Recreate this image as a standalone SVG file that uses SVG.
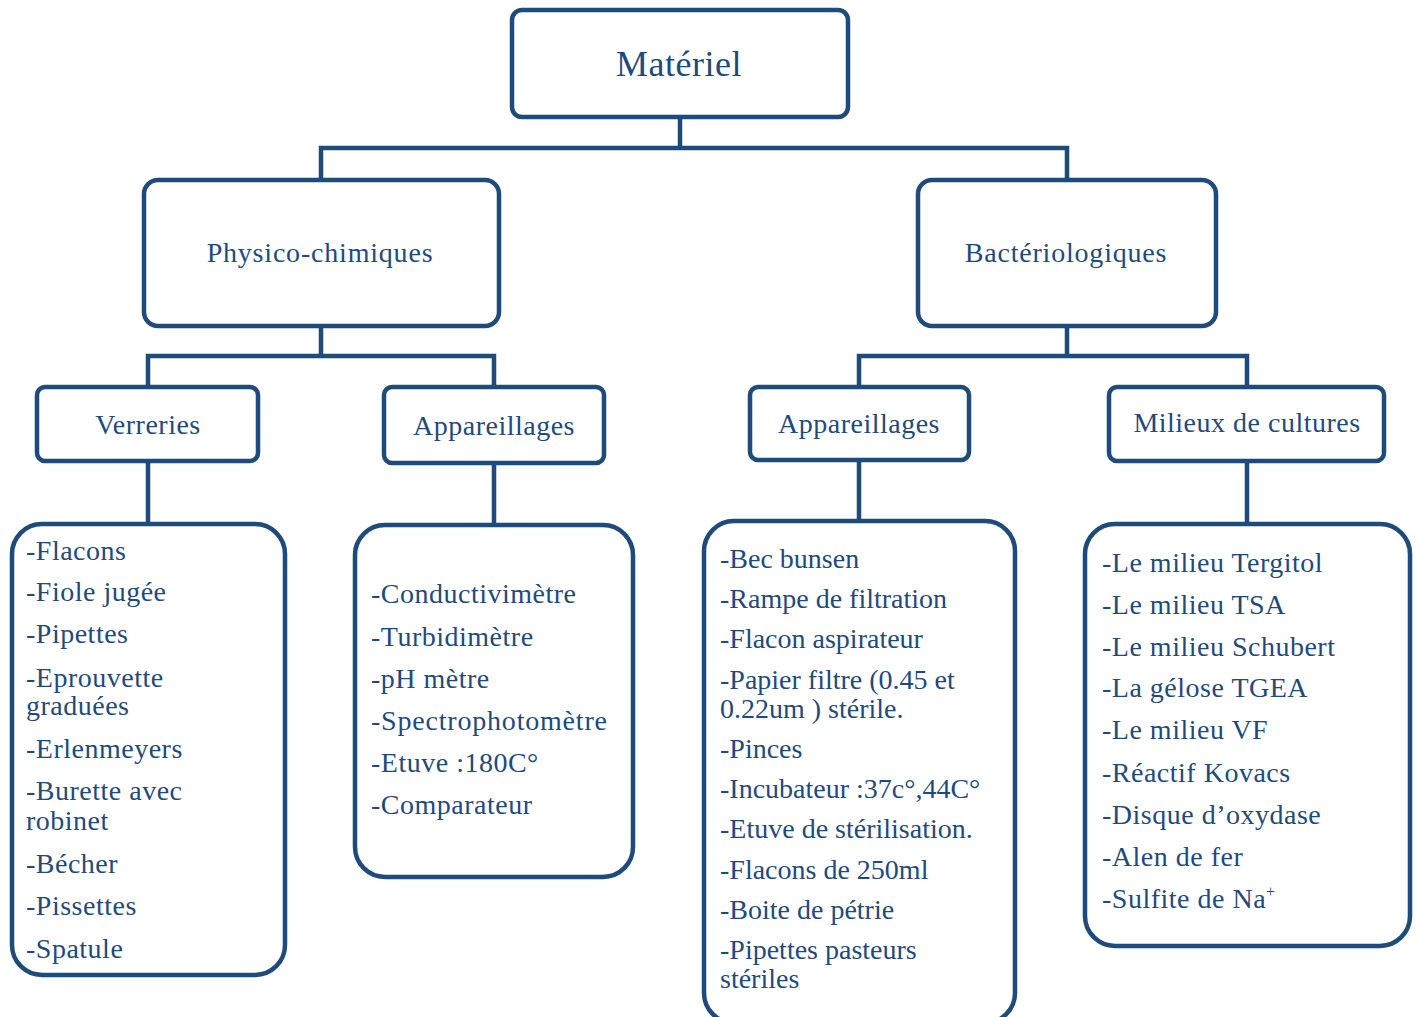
<svg xmlns="http://www.w3.org/2000/svg" width="1417" height="1017" viewBox="0 0 1417 1017">
<style>
.box{fill:#fff;stroke:#1f4a7c;stroke-width:4.5}
.ln{fill:none;stroke:#1f4a7c;stroke-width:4.5}
text{font-family:"Liberation Serif","Times New Roman",serif;fill:#1f4a7c;font-size:28px;letter-spacing:0.5px}
.c{text-anchor:middle}
.h{letter-spacing:0.8px}
.t{letter-spacing:0px}
</style>
<rect width="1417" height="1017" fill="#fff"/>
<g id="connectors">
<path class="ln" d="M680 118V148M321 180V148H1067V180"/>
<path class="ln" d="M321 326V356M148 387V356H494V387"/>
<path class="ln" d="M1067 326V356M859 387V356H1247V387"/>
<path class="ln" d="M148 461V524M494 463V525M859 460V521M1247 461V524"/>
</g>
<g id="materiel"><rect class="box" x="512" y="10" width="336" height="107" rx="10"/><text class="c" x="679" y="76" style="font-size:36px">Matériel</text></g>
<g id="physico"><rect class="box" x="144" y="180" width="355" height="146" rx="14"/><text class="c h" x="320" y="262">Physico-chimiques</text></g>
<g id="bacterio"><rect class="box" x="918" y="180" width="298" height="146" rx="14"/><text class="c h" x="1066" y="262">Bactériologiques</text></g>
<g id="verreries"><rect class="box" x="37" y="387" width="221" height="74" rx="8"/><text class="c" x="148" y="434">Verreries</text></g>
<g id="appareillages-pc"><rect class="box" x="384" y="387" width="220" height="76" rx="8"/><text class="c" x="494" y="435">Appareillages</text></g>
<g id="appareillages-b"><rect class="box" x="750" y="387" width="219" height="73" rx="8"/><text class="c" x="859" y="433">Appareillages</text></g>
<g id="milieux"><rect class="box" x="1109" y="387" width="275" height="74" rx="8"/><text class="c" x="1247" y="432">Milieux de cultures</text></g>
<g id="liste-verreries"><rect class="box" x="12" y="524" width="273" height="451" rx="30"/>
<text x="26" y="560">-Flacons</text>
<text x="26" y="601">-Fiole jugée</text>
<text x="26" y="643">-Pipettes</text>
<text x="26" y="687">-Eprouvette</text>
<text x="26" y="715">graduées</text>
<text x="26" y="758">-Erlenmeyers</text>
<text x="26" y="800">-Burette avec</text>
<text x="26" y="830">robinet</text>
<text x="26" y="873">-Bécher</text>
<text x="26" y="915">-Pissettes</text>
<text x="26" y="958">-Spatule</text>
</g>
<g id="liste-appareillages-pc"><rect class="box" x="355" y="525" width="278" height="352" rx="30"/>
<text x="371" y="603">-Conductivimètre</text>
<text x="371" y="646">-Turbidimètre</text>
<text x="371" y="688">-pH mètre</text>
<text x="371" y="730" style="letter-spacing:0.8px">-Spectrophotomètre</text>
<text x="371" y="772">-Etuve :180C°</text>
<text x="371" y="814">-Comparateur</text>
</g>
<g id="liste-appareillages-b" class="t"><rect class="box" x="704" y="521" width="311" height="502" rx="30"/>
<text class="t" x="720" y="568">-Bec bunsen</text>
<text class="t" x="720" y="608">-Rampe de filtration</text>
<text class="t" x="720" y="648">-Flacon aspirateur</text>
<text class="t" x="720" y="689">-Papier filtre (0.45 et</text>
<text class="t" x="720" y="718">0.22um ) stérile.</text>
<text class="t" x="720" y="758">-Pinces</text>
<text class="t" x="720" y="798">-Incubateur :37c°,44C°</text>
<text class="t" x="720" y="838">-Etuve de stérilisation.</text>
<text class="t" x="720" y="879">-Flacons de 250ml</text>
<text class="t" x="720" y="919">-Boite de pétrie</text>
<text class="t" x="720" y="959">-Pipettes pasteurs</text>
<text class="t" x="720" y="988">stériles</text>
</g>
<g id="liste-milieux"><rect class="box" x="1085" y="524" width="325" height="422" rx="30"/>
<text x="1102" y="572">-Le milieu Tergitol</text>
<text x="1102" y="614">-Le milieu TSA</text>
<text x="1102" y="656">-Le milieu Schubert</text>
<text x="1102" y="697">-La gélose TGEA</text>
<text x="1102" y="739">-Le milieu VF</text>
<text x="1102" y="782">-Réactif Kovacs</text>
<text x="1102" y="824">-Disque d’oxydase</text>
<text x="1102" y="866">-Alen de fer</text>
<text x="1102" y="908">-Sulfite de Na<tspan dy="-11" style="font-size:16px">+</tspan></text>
</g>
</svg>
